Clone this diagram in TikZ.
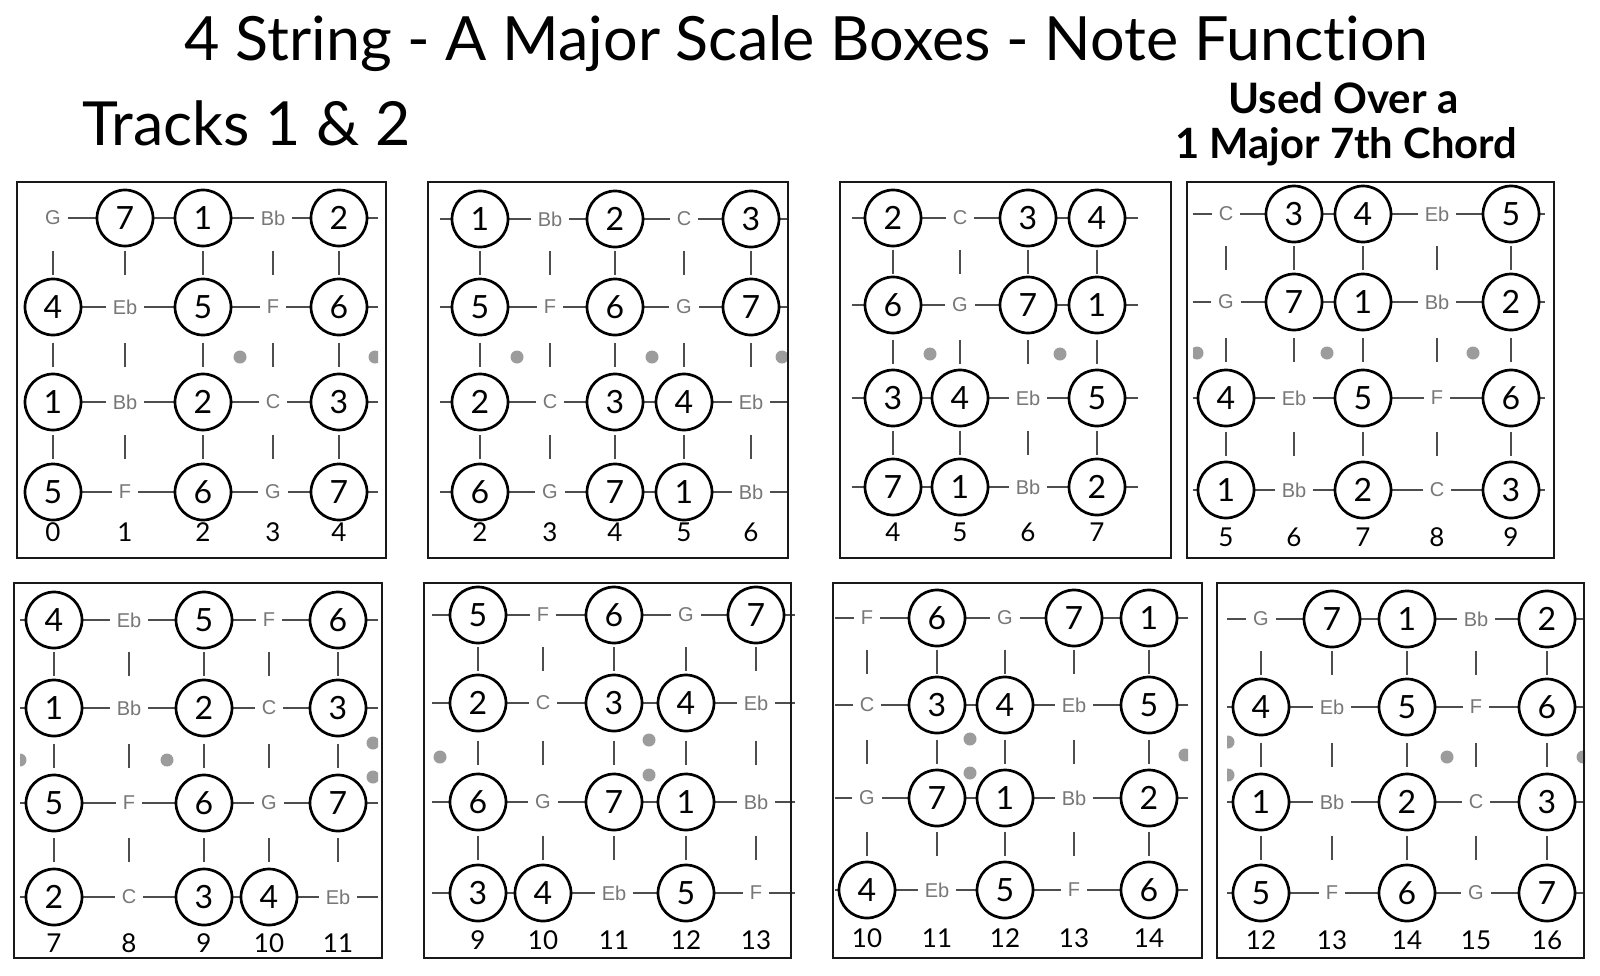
\documentclass[tikz,border=0pt]{standalone}
\usepackage{fontspec}
\setmainfont{Lato}[Ligatures={NoCommon}]
\newfontfamily\notefont{Liberation Sans}
\definecolor{notegray}{HTML}{777777}
\definecolor{linegray}{HTML}{4D4D4D}
\definecolor{dotgray}{HTML}{9C9C9C}
\tikzset{
  deg/.style={circle, draw=black, line width=1.35pt, fill=white, minimum size=28pt, inner sep=0pt,
    font=\fontsize{16}{16}\selectfont},
  nt/.style={fill=white, inner xsep=3.5pt, inner ysep=1pt, text=notegray,
    font=\notefont\fontsize{10}{10}\selectfont},
  strline/.style={draw=linegray, line width=1.1pt},
  fretline/.style={draw=linegray, line width=1.1pt},
  boxframe/.style={draw=black!90, line width=1.1pt},
  fretnum/.style={font=\fontsize{13}{13}\selectfont, inner sep=0pt},
  fdot/.style={fill=dotgray},
  headtxt/.style={anchor=base west, inner sep=0pt},
}
\newcommand\NBcx[1]{}
\newcommand\NBry[1]{}
\newcommand\NBgrid{%
  \foreach \i in {0,...,\NBlast}{%
    \foreach \j in {0,1,2}{%
      \edef\xx{\NBcx{\i}}%
      \edef\ya{\NBry{\j}}%
      \edef\yb{\NBry{\j+1}}%
      \draw[fretline] (\xx,{(\ya+\yb)/2-12}) -- (\xx,{(\ya+\yb)/2+12});
    }%
  }%
}
\newcommand\NBrow[2]{%
  \edef\yy{\NBry{#1}}%
  \draw[strline] (\NBL,\yy) -- (\NBR,\yy);
  \foreach \k/\t [count=\i from 0] in {#2}{%
    \edef\xx{\NBcx{\i}}%
    \node[\k] (b\NBid r#1c\i) at (\xx,\yy) {\t};
  }%
}
\newcommand\NBlabels[2]{%
  \foreach \t [count=\i from 0] in {#2}{%
    \edef\xx{\NBcx{\i}}%
    \node[fretnum] (b\NBid f\i) at (\xx,#1) {\t};
  }%
}
\newcommand\NBdots[1]{%
  \begin{scope}
    \clip (\NBL,\NBtop) rectangle (\NBR,\NBbot);
    \foreach \p in {#1} \fill[fdot] \p circle[radius=3.25pt];
  \end{scope}
}
\begin{document}
\begin{tikzpicture}[x=0.5pt,y=-0.5pt]
\useasboundingbox (0,0) rectangle (1600,975);
\fill[white] (0,0) rectangle (1600,975);

% headings
\node[headtxt] (title) at (184,60) {\resizebox{622pt}{!}{\fontsize{30}{30}\selectfont 4 String - A Major Scale Boxes - Note Function}};
\node[headtxt] (tracks) at (82,145) {\resizebox{164pt}{!}{\fontsize{30}{30}\selectfont Tracks 1 \& 2}};
\node[headtxt] (used1) at (1228,113) {\resizebox{115pt}{!}{\fontsize{18}{18}\selectfont\bfseries Used Over a}};
\node[headtxt] (used2) at (1175,158) {\resizebox{171pt}{!}{\fontsize{18}{18}\selectfont\bfseries 1 Major 7th Chord}};

%%%%%%%%%%%% Box 1
\def\NBid{1}
\renewcommand\NBcx[1]{\ifcase\numexpr#1\relax 53\or 125\or 203\or 273\or 339\fi}
\renewcommand\NBry[1]{\ifcase\numexpr#1\relax 218\or 307\or 402\or 492\fi}
\def\NBlast{4}\def\NBL{53}\def\NBR{378}\def\NBtop{182}\def\NBbot{558}
\NBdots{(240,357),(375,357)}
\NBgrid
\NBrow{0}{nt/G,deg/7,deg/1,nt/Bb,deg/2}
\NBrow{1}{deg/4,nt/Eb,deg/5,nt/F,deg/6}
\NBrow{2}{deg/1,nt/Bb,deg/2,nt/C,deg/3}
\NBrow{3}{deg/5,nt/F,deg/6,nt/G,deg/7}
\NBlabels{532}{0,1,2,3,4}
\draw[boxframe] (17,182) rectangle (386,558);

%%%%%%%%%%%% Box 2
\def\NBid{2}
\renewcommand\NBcx[1]{\ifcase\numexpr#1\relax 480\or 550\or 615\or 684\or 751\fi}
\renewcommand\NBry[1]{\ifcase\numexpr#1\relax 219\or 307\or 402\or 492\fi}
\def\NBlast{4}\def\NBL{440}\def\NBR{787}\def\NBtop{182}\def\NBbot{558}
\NBdots{(517,357),(652,357),(782,357)}
\NBgrid
\NBrow{0}{deg/1,nt/Bb,deg/2,nt/C,deg/3}
\NBrow{1}{deg/5,nt/F,deg/6,nt/G,deg/7}
\NBrow{2}{deg/2,nt/C,deg/3,deg/4,nt/Eb}
\NBrow{3}{deg/6,nt/G,deg/7,deg/1,nt/Bb}
\NBlabels{532}{2,3,4,5,6}
\draw[boxframe] (428,182) rectangle (788,558);

%%%%%%%%%%%% Box 3
\def\NBid{3}
\renewcommand\NBcx[1]{\ifcase\numexpr#1\relax 893\or 960\or 1028\or 1097\fi}
\renewcommand\NBry[1]{\ifcase\numexpr#1\relax 218\or 305\or 398\or 487\fi}
\def\NBlast{3}\def\NBL{852}\def\NBR{1138}\def\NBtop{182}\def\NBbot{558}
\NBdots{(930,354),(1060,354)}
\NBgrid
\NBrow{0}{deg/2,nt/C,deg/3,deg/4}
\NBrow{1}{deg/6,nt/G,deg/7,deg/1}
\NBrow{2}{deg/3,deg/4,nt/Eb,deg/5}
\NBrow{3}{deg/7,deg/1,nt/Bb,deg/2}
\NBlabels{532}{4,5,6,7}
\draw[boxframe] (840,182) rectangle (1171,558);

%%%%%%%%%%%% Box 4
\def\NBid{4}
\renewcommand\NBcx[1]{\ifcase\numexpr#1\relax 1226\or 1294\or 1363\or 1437\or 1511\fi}
\renewcommand\NBry[1]{\ifcase\numexpr#1\relax 214\or 302\or 398\or 490\fi}
\def\NBlast{4}\def\NBL{1193}\def\NBR{1545}\def\NBtop{182}\def\NBbot{558}
\NBdots{(1197,353),(1327,353),(1473,353)}
\NBgrid
\NBrow{0}{nt/C,deg/3,deg/4,nt/Eb,deg/5}
\NBrow{1}{nt/G,deg/7,deg/1,nt/Bb,deg/2}
\NBrow{2}{deg/4,nt/Eb,deg/5,nt/F,deg/6}
\NBrow{3}{deg/1,nt/Bb,deg/2,nt/C,deg/3}
\NBlabels{537}{5,6,7,8,9}
\draw[boxframe] (1187,182) rectangle (1554,558);

%%%%%%%%%%%% Box 5
\def\NBid{5}
\renewcommand\NBcx[1]{\ifcase\numexpr#1\relax 54\or 129\or 204\or 269\or 338\fi}
\renewcommand\NBry[1]{\ifcase\numexpr#1\relax 620\or 708\or 803\or 897\fi}
\def\NBlast{4}\def\NBL{20}\def\NBR{378}\def\NBtop{583}\def\NBbot{958}
\NBdots{(20,760),(167,760),(373,743),(373,777)}
\NBgrid
\NBrow{0}{deg/4,nt/Eb,deg/5,nt/F,deg/6}
\NBrow{1}{deg/1,nt/Bb,deg/2,nt/C,deg/3}
\NBrow{2}{deg/5,nt/F,deg/6,nt/G,deg/7}
\NBrow{3}{deg/2,nt/C,deg/3,deg/4,nt/Eb}
\NBlabels{943}{7,8,9,10,11}
\draw[boxframe] (14,583) rectangle (382,958);

%%%%%%%%%%%% Box 6
\def\NBid{6}
\renewcommand\NBcx[1]{\ifcase\numexpr#1\relax 478\or 543\or 614\or 686\or 756\fi}
\renewcommand\NBry[1]{\ifcase\numexpr#1\relax 615\or 703\or 802\or 893\fi}
\def\NBlast{4}\def\NBL{432}\def\NBR{795}\def\NBtop{583}\def\NBbot{958}
\NBdots{(440,757),(649,740),(649,775)}
\NBgrid
\NBrow{0}{deg/5,nt/F,deg/6,nt/G,deg/7}
\NBrow{1}{deg/2,nt/C,deg/3,deg/4,nt/Eb}
\NBrow{2}{deg/6,nt/G,deg/7,deg/1,nt/Bb}
\NBrow{3}{deg/3,deg/4,nt/Eb,deg/5,nt/F}
\NBlabels{940}{9,10,11,12,13}
\draw[boxframe] (424,583) rectangle (791,958);

%%%%%%%%%%%% Box 7
\def\NBid{7}
\renewcommand\NBcx[1]{\ifcase\numexpr#1\relax 867\or 937\or 1005\or 1074\or 1149\fi}
\renewcommand\NBry[1]{\ifcase\numexpr#1\relax 618\or 705\or 798\or 890\fi}
\def\NBlast{4}\def\NBL{835}\def\NBR{1188}\def\NBtop{583}\def\NBbot{958}
\NBdots{(970,739),(970,773),(1185,755)}
\NBgrid
\NBrow{0}{nt/F,deg/6,nt/G,deg/7,deg/1}
\NBrow{1}{nt/C,deg/3,deg/4,nt/Eb,deg/5}
\NBrow{2}{nt/G,deg/7,deg/1,nt/Bb,deg/2}
\NBrow{3}{deg/4,nt/Eb,deg/5,nt/F,deg/6}
\NBlabels{938}{10,11,12,13,14}
\draw[boxframe] (833,583) rectangle (1202,958);

%%%%%%%%%%%% Box 8
\def\NBid{8}
\renewcommand\NBcx[1]{\ifcase\numexpr#1\relax 1261\or 1332\or 1407\or 1476\or 1547\fi}
\renewcommand\NBry[1]{\ifcase\numexpr#1\relax 619\or 707\or 802\or 893\fi}
\def\NBlast{4}\def\NBL{1227}\def\NBR{1585}\def\NBtop{583}\def\NBbot{958}
\NBdots{(1228,742),(1228,775),(1447,757),(1583,757)}
\NBgrid
\NBrow{0}{nt/G,deg/7,deg/1,nt/Bb,deg/2}
\NBrow{1}{deg/4,nt/Eb,deg/5,nt/F,deg/6}
\NBrow{2}{deg/1,nt/Bb,deg/2,nt/C,deg/3}
\NBrow{3}{deg/5,nt/F,deg/6,nt/G,deg/7}
\NBlabels{940}{12,13,14,15,16}
\draw[boxframe] (1217,583) rectangle (1584,958);
\end{tikzpicture}
\end{document}
